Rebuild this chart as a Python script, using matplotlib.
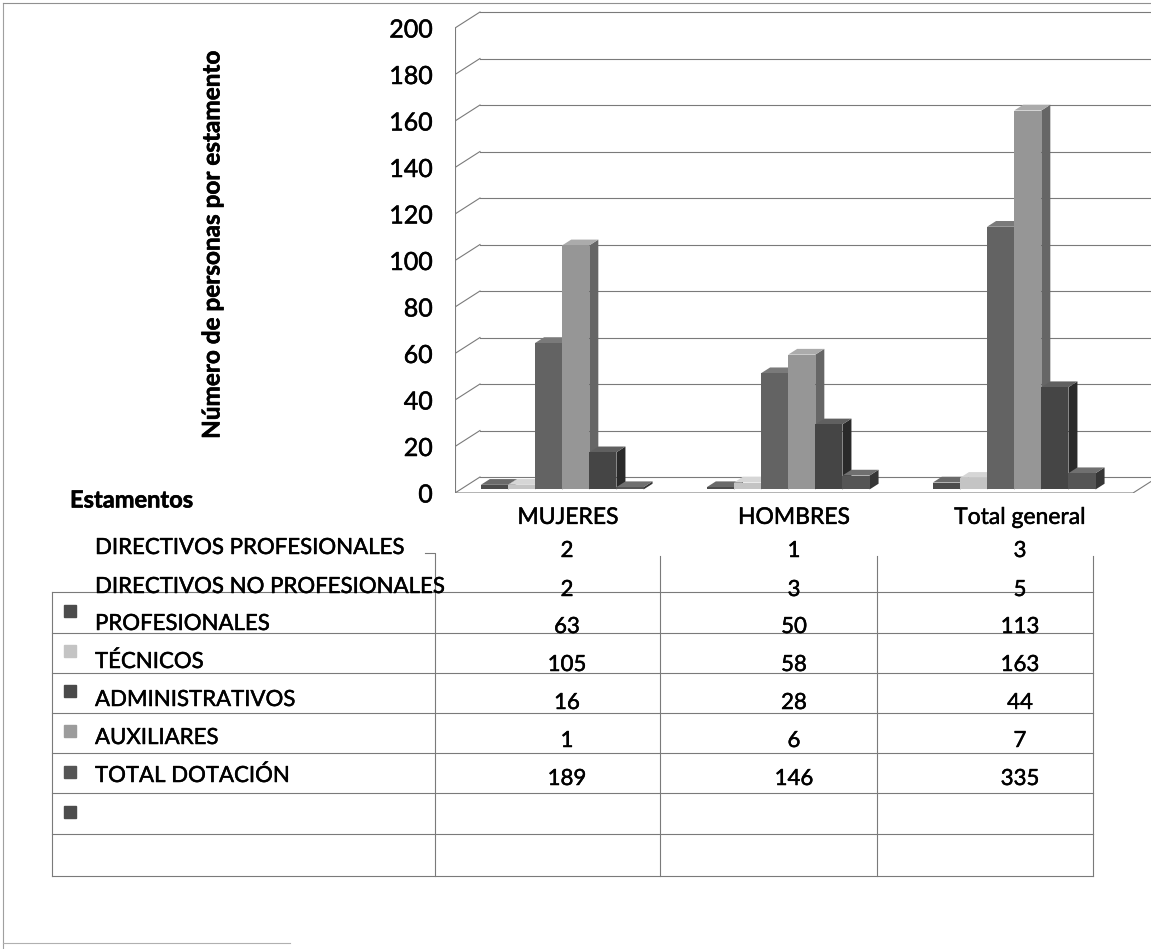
import matplotlib.pyplot as plt
import matplotlib.patheffects as pe
from matplotlib.patches import Polygon, Rectangle

plt.rcParams["font.family"] = ["Lato", "DejaVu Sans"]

# datos
categorias = ["MUJERES", "HOMBRES", "Total general"]
estamentos = [
    "DIRECTIVOS PROFESIONALES",
    "DIRECTIVOS NO PROFESIONALES",
    "PROFESIONALES",
    "TÉCNICOS",
    "ADMINISTRATIVOS",
    "AUXILIARES",
    "TOTAL DOTACIÓN",
]
mujeres = [2, 2, 63, 105, 16, 1, 189]
hombres = [1, 3, 50, 58, 28, 6, 146]
total_general = [3, 5, 113, 163, 44, 7, 335]
y_ticks = list(range(0, 201, 20))

# colores de las series (escaneo en gris)
face_cols = ["#4c4c4c", "#c4c4c4", "#636363", "#969696", "#454545", "#555555"]
side_cols = ["#2e2e2e", "#9a9a9a", "#3e3e3e", "#666666", "#2a2a2a", "#363636"]
top_cols = ["#6a6a6a", "#d6d6d6", "#7a7a7a", "#ababab", "#606060", "#707070"]

# trazo ligero para imitar la tinta del escaneo
ink = [pe.withStroke(linewidth=0.35, foreground="black")]
ink_bold = [pe.withStroke(linewidth=0.4, foreground="black")]

W, H = 1151, 949
fig = plt.figure(figsize=(W / 100, H / 100), dpi=100)

# capa de fondo en pixeles para la tabla y los textos
bg = fig.add_axes([0, 0, 1, 1])
bg.set_xlim(0, W)
bg.set_ylim(H, 0)
bg.axis("off")

grid_c = "#7a7a7a"
# marco del escaneo
bg.plot([3, 3], [3, H], color="#a0a0a0", lw=0.8)
bg.plot([3, W], [3, 3], color="#909090", lw=0.8)
bg.plot([3, 290], [943, 943], color="#b0b0b0", lw=0.8)

# tabla
row_lines = [592, 633, 673, 713, 753, 793, 834, 876]
for yl in row_lines:
    bg.plot([52, 1093], [yl, yl], color=grid_c, lw=0.8)
bg.plot([52, 52], [592, 876], color=grid_c, lw=0.8)
bg.plot([425, 435, 435], [553, 553, 876], color=grid_c, lw=0.8)
for xv in [660, 877, 1093]:
    bg.plot([xv, xv], [556, 876], color=grid_c, lw=0.8)

bg.text(70, 500, "Estamentos", fontsize=17, fontweight="bold", va="center", ha="left",
        path_effects=ink_bold)
row_y = [548, 587, 624, 662, 700, 738, 776]
col_x = [567, 794, 1020]
for i, name in enumerate(estamentos):
    bg.text(95, row_y[i], name, fontsize=16, va="center", ha="left", path_effects=ink)
    for cx, serie in zip(col_x, [mujeres, hombres, total_general]):
        bg.text(cx, row_y[i] + 3, str(serie[i]), fontsize=16, va="center", ha="center",
                path_effects=ink)

# cuadros de leyenda
sq_y = [611, 651, 691, 731, 772, 812]
sq_cols = ["#4c4c4c", "#c4c4c4", "#4a4a4a", "#9c9c9c", "#555555", "#4c4c4c"]
for yy, c in zip(sq_y, sq_cols):
    bg.add_patch(Rectangle((64, yy - 6), 12, 12, color=c))

bg.text(212, 245, "Número de personas por estamento", rotation=90,
        fontsize=17.5, fontweight="bold", va="center", ha="center", path_effects=ink_bold)

# grafico 3D simulado
ax = fig.add_axes([455 / W, (H - 493) / H, (W - 455) / W, (493 - 10) / H])
ax.patch.set_alpha(0)
for s in ax.spines.values():
    s.set_visible(False)
px_x = 226.0   # pixeles por categoria
px_y = 2.325   # pixeles por unidad
ax.set_xlim(0, (W - 455) / px_x)
ax.set_ylim(0, (493 - 10) / px_y)
DX = 25 / px_x
DY = 16 / px_y

for v in y_ticks:
    ax.plot([DX, 4], [v + DY, v + DY], color=grid_c, lw=0.8, zorder=1)
    ax.plot([0, DX], [v, v + DY], color=grid_c, lw=0.8, zorder=1)
ax.plot([0, 0], [0, 200], color=grid_c, lw=0.8, zorder=1)
ax.plot([0, 3, 3 + DX], [0, 0, DY], color=grid_c, lw=0.8, zorder=1)

ax.set_yticks(y_ticks)
ax.set_yticklabels([str(v) for v in y_ticks])
ax.tick_params(axis="y", length=0, pad=16, labelsize=18)
ax.set_xticks([0.5, 1.5, 2.5])
ax.set_xticklabels(categorias)
ax.tick_params(axis="x", length=0, pad=10, labelsize=16.5)
for lab in ax.get_yticklabels() + ax.get_xticklabels():
    lab.set_path_effects(ink)

bw = 0.12
f0, f1 = 0.22, 0.58
z = 2
for g, serie in enumerate([mujeres, hombres, total_general]):
    centro = g + 0.5
    for i in range(6):
        val = serie[i]
        x0 = centro + (i - 3) * bw + f0 * DX - 0.05
        x1 = x0 + bw
        b = f0 * DY
        t = val + f0 * DY
        ddx = (f1 - f0) * DX
        ddy = (f1 - f0) * DY
        ax.add_patch(Polygon([(x1, b), (x1 + ddx, b + ddy), (x1 + ddx, t + ddy), (x1, t)],
                             closed=True, facecolor=side_cols[i], edgecolor="none", zorder=z))
        ax.add_patch(Polygon([(x0, t), (x0 + ddx, t + ddy), (x1 + ddx, t + ddy), (x1, t)],
                             closed=True, facecolor=top_cols[i], edgecolor="none", zorder=z))
        ax.add_patch(Rectangle((x0, b), bw, val, facecolor=face_cols[i],
                               edgecolor="none", zorder=z + 0.5))
        z += 1

fig.savefig("out.png", dpi=100)
